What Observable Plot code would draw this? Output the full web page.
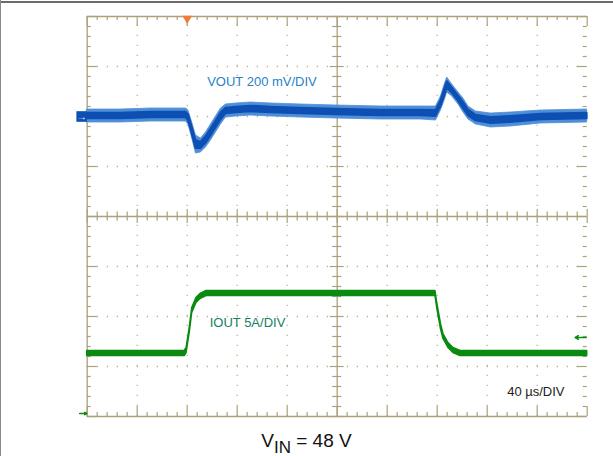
<!DOCTYPE html>
<html>
<head>
<meta charset="utf-8">
<script src="https://cdn.jsdelivr.net/npm/d3@7"></script>
<script src="https://cdn.jsdelivr.net/npm/@observablehq/plot@0.6"></script>
<style>
  body { margin: 0; background: #fff; font-family: "Liberation Sans", Arial, sans-serif; }
  #wrap { position: relative; width: 613px; height: 456px; overflow: hidden; background: #fff; }
  #topline { position: absolute; left: 0; top: 1px; width: 613px; height: 2px; background: #6b6b6b; }
  #leftline { position: absolute; left: 0; top: 0; width: 1px; height: 456px; background: #8a8a8a; }
  #chart { position: absolute; left: 0; top: 0; }
  #caption { position: absolute; left: 0; top: 432px; width: 613px; text-align: center;
             font-size: 19px; line-height: 18px; color: #111; white-space: nowrap; }
  #caption .sub { font-size: 17px; position: relative; top: 6px; }
</style>
</head>
<body>
<div id="wrap">
  <div id="chart"></div>
  <div id="topline"></div>
  <div id="leftline"></div>
  <div id="caption">V<span class="sub">IN</span> = 48 V</div>
</div>
<script>
// ---------------- data (read from the scope capture) ----------------
// Time base: 40 µs/div, 10 divisions
const timePerDiv = 40;          // µs
const divisions = 10;

// VOUT (AC deviation, mV) – 200 mV/div, reference marker at +2 div
const voutScale = 200;          // mV/div
const voutRef = 2;              // div
const vTime = [0, 27, 51, 79, 81, 84, 87, 91, 95, 99, 103, 107, 111, 119, 131, 147, 171, 199, 235, 267, 279, 283, 286, 288, 292, 297, 301, 305, 311, 323, 339, 363, 400];
const vHigh = [28, 28, 32, 32, 24, -24, -76, -88, -64, -32, 0, 32, 48, 52, 56, 52, 48, 44, 40, 40, 40, 80, 128, 156, 128, 96, 72, 40, 20, 12, 16, 24, 28];
const vLow  = [-24, -24, -20, -20, -32, -88, -148, -144, -124, -96, -64, -32, -4, 0, 4, 0, -4, -8, -12, -12, -16, 24, 64, 96, 80, 48, 16, -12, -32, -44, -40, -28, -24];

// IOUT (A) – 5 A/div, ground marker at -3.94 div
const ioutScale = 5;            // A/div
const ioutRef = -3.94;          // div
const iTime = [0, 78, 79.5, 82, 84, 87.4, 90.6, 95.4, 278.6, 280, 283, 285, 289, 293, 298.6, 400];
const iOut  = [6.0, 6.0, 6.3, 8.3, 10.3, 11.3, 11.7, 12.0, 12.0, 10.8, 8.7, 7.7, 6.8, 6.3, 6.0, 6.0];
const iNoise = 0.5;             // A peak-to-peak band
const trigTime = 80;            // µs (trigger position)
const trigLevel = 7.6;          // A (trigger level on IOUT)

const labels = [
  {t: 96,  div: 2.7,  text: "VOUT 200 mV/DIV", color: "#2a7fc8"},
  {t: 98,  div: -2.12, text: "IOUT 5A/DIV",    color: "#16805e"},
  {t: 336, div: -3.5,  text: "40 \u00b5s/DIV", color: "#222222"}
];

// ---------------- derived ----------------
const vData = vTime.map((t, i) => {
  const lo = voutRef + vLow[i] / voutScale, hi = voutRef + vHigh[i] / voutScale;
  const mid = (lo + hi) / 2, half = (hi - lo) / 2;
  return {x: t / timePerDiv, y1: lo, y2: hi, c1: mid - 0.45 * half, c2: mid + 0.45 * half};
});
const iData = iTime.map((t, i) => ({x: t / timePerDiv, y1: ioutRef + (iOut[i] - iNoise / 2) / ioutScale, y2: ioutRef + (iOut[i] + iNoise / 2) / ioutScale}));

const gridC = "#aaa17d";
const dotC = "#b9b297";
const xMinor = d3.range(0, divisions * 5 + 1).map(k => k / 5);
const yMinor = d3.range(-20, 21).map(k => k / 5);
const isMaj = v => Math.abs(v - Math.round(v)) < 1e-6;
const edgeLen = v => isMaj(v) ? 0.2 : 0.08;
const crossLen = v => isMaj(v) ? 0.14 : 0.09;

const blue = "#0d4fb3";
const lightBlue = "#4f8fd8";
const green = "#0b8a12";

const plot = Plot.plot({
  width: 613,
  height: 424,
  marginLeft: 86.7,
  marginRight: 26.3,
  marginTop: 16,
  marginBottom: 8,
  x: {domain: [0, divisions], axis: null},
  y: {domain: [-4, 4], axis: null},
  style: {background: "transparent", fontFamily: "Liberation Sans, Arial, sans-serif", overflow: "visible"},
  marks: [
    // dotted graticule
    Plot.ruleX([1, 2, 3, 4, 6, 7, 8, 9], {y1: -4, y2: 4, stroke: dotC, strokeWidth: 1.3, strokeDasharray: "1.3,8.7"}),
    Plot.ruleY([-3, -2, -1, 1, 2, 3], {x1: 0, x2: divisions, stroke: dotC, strokeWidth: 1.3, strokeDasharray: "1.3,8.7"}),
    // frame
    Plot.ruleY([4, -4], {x1: 0, x2: divisions, stroke: gridC, strokeWidth: 1.3}),
    Plot.ruleX([0], {y1: -4, y2: 4, stroke: gridC, strokeWidth: 1.3}),
    // centre cross
    Plot.ruleX([divisions / 2], {y1: -4, y2: 4, stroke: gridC, strokeWidth: 1.3}),
    Plot.ruleY([0], {x1: 0, x2: divisions, stroke: gridC, strokeWidth: 1.3}),
    // edge ticks
    Plot.ruleX(xMinor, {x: d => d, y1: 4, y2: d => 4 - edgeLen(d), stroke: gridC, strokeWidth: 1.2}),
    Plot.ruleX(xMinor, {x: d => d, y1: -4, y2: d => -4 + edgeLen(d), stroke: gridC, strokeWidth: 1.2}),
    Plot.ruleY(yMinor, {y: d => d, x1: 0, x2: d => edgeLen(d), stroke: gridC, strokeWidth: 1.2}),
    Plot.ruleY(yMinor, {y: d => d, x1: divisions, x2: d => divisions - edgeLen(d), stroke: gridC, strokeWidth: 1.2}),
    // centre cross ticks
    Plot.ruleY(yMinor, {y: d => d, x1: d => divisions / 2 - crossLen(d), x2: d => divisions / 2 + crossLen(d), stroke: gridC, strokeWidth: 1.2}),
    Plot.ruleX(xMinor, {x: d => d, y1: d => -crossLen(d), y2: d => crossLen(d), stroke: gridC, strokeWidth: 1.2}),
    // traces
    Plot.areaY(iData, {x: "x", y1: "y1", y2: "y2", fill: green, stroke: green, strokeWidth: 1.5}),
    Plot.areaY(vData, {x: "x", y1: "y1", y2: "y2", fill: lightBlue, stroke: lightBlue, strokeWidth: 0.8}),
    Plot.areaY(vData, {x: "x", y1: "c1", y2: "c2", fill: blue, stroke: blue, strokeWidth: 1.8}),
    // labels
    Plot.text(labels, {x: d => d.t / timePerDiv, y: "div", text: "text", fill: "color", textAnchor: "start", fontSize: 13}),
    // markers
    Plot.dot([trigTime / timePerDiv], {x: d => d, y: 4, symbol: "triangle", rotate: 180, r: 3.6, fill: "#f47a36", dy: 2}),
    Plot.dot([voutRef], {x: 0, y: d => d, symbol: "square", r: 6, fill: blue, dx: -5.5}),
    Plot.text([voutRef], {x: 0, y: d => d, text: () => "\u2192", fill: "white", fontSize: 10, dx: -5.5, fontWeight: "bold"}),
    Plot.arrow([ioutRef], {x1: -0.15, x2: -0.01, y1: d => d, y2: d => d, stroke: green, strokeWidth: 1.5, headLength: 5}),
    Plot.arrow([ioutRef + trigLevel / ioutScale], {x1: divisions - 0.02, x2: divisions - 0.24, y1: d => d, y2: d => d, stroke: green, strokeWidth: 1.5, headLength: 6})
  ]
});
document.getElementById("chart").appendChild(plot);
</script>
</body>
</html>
